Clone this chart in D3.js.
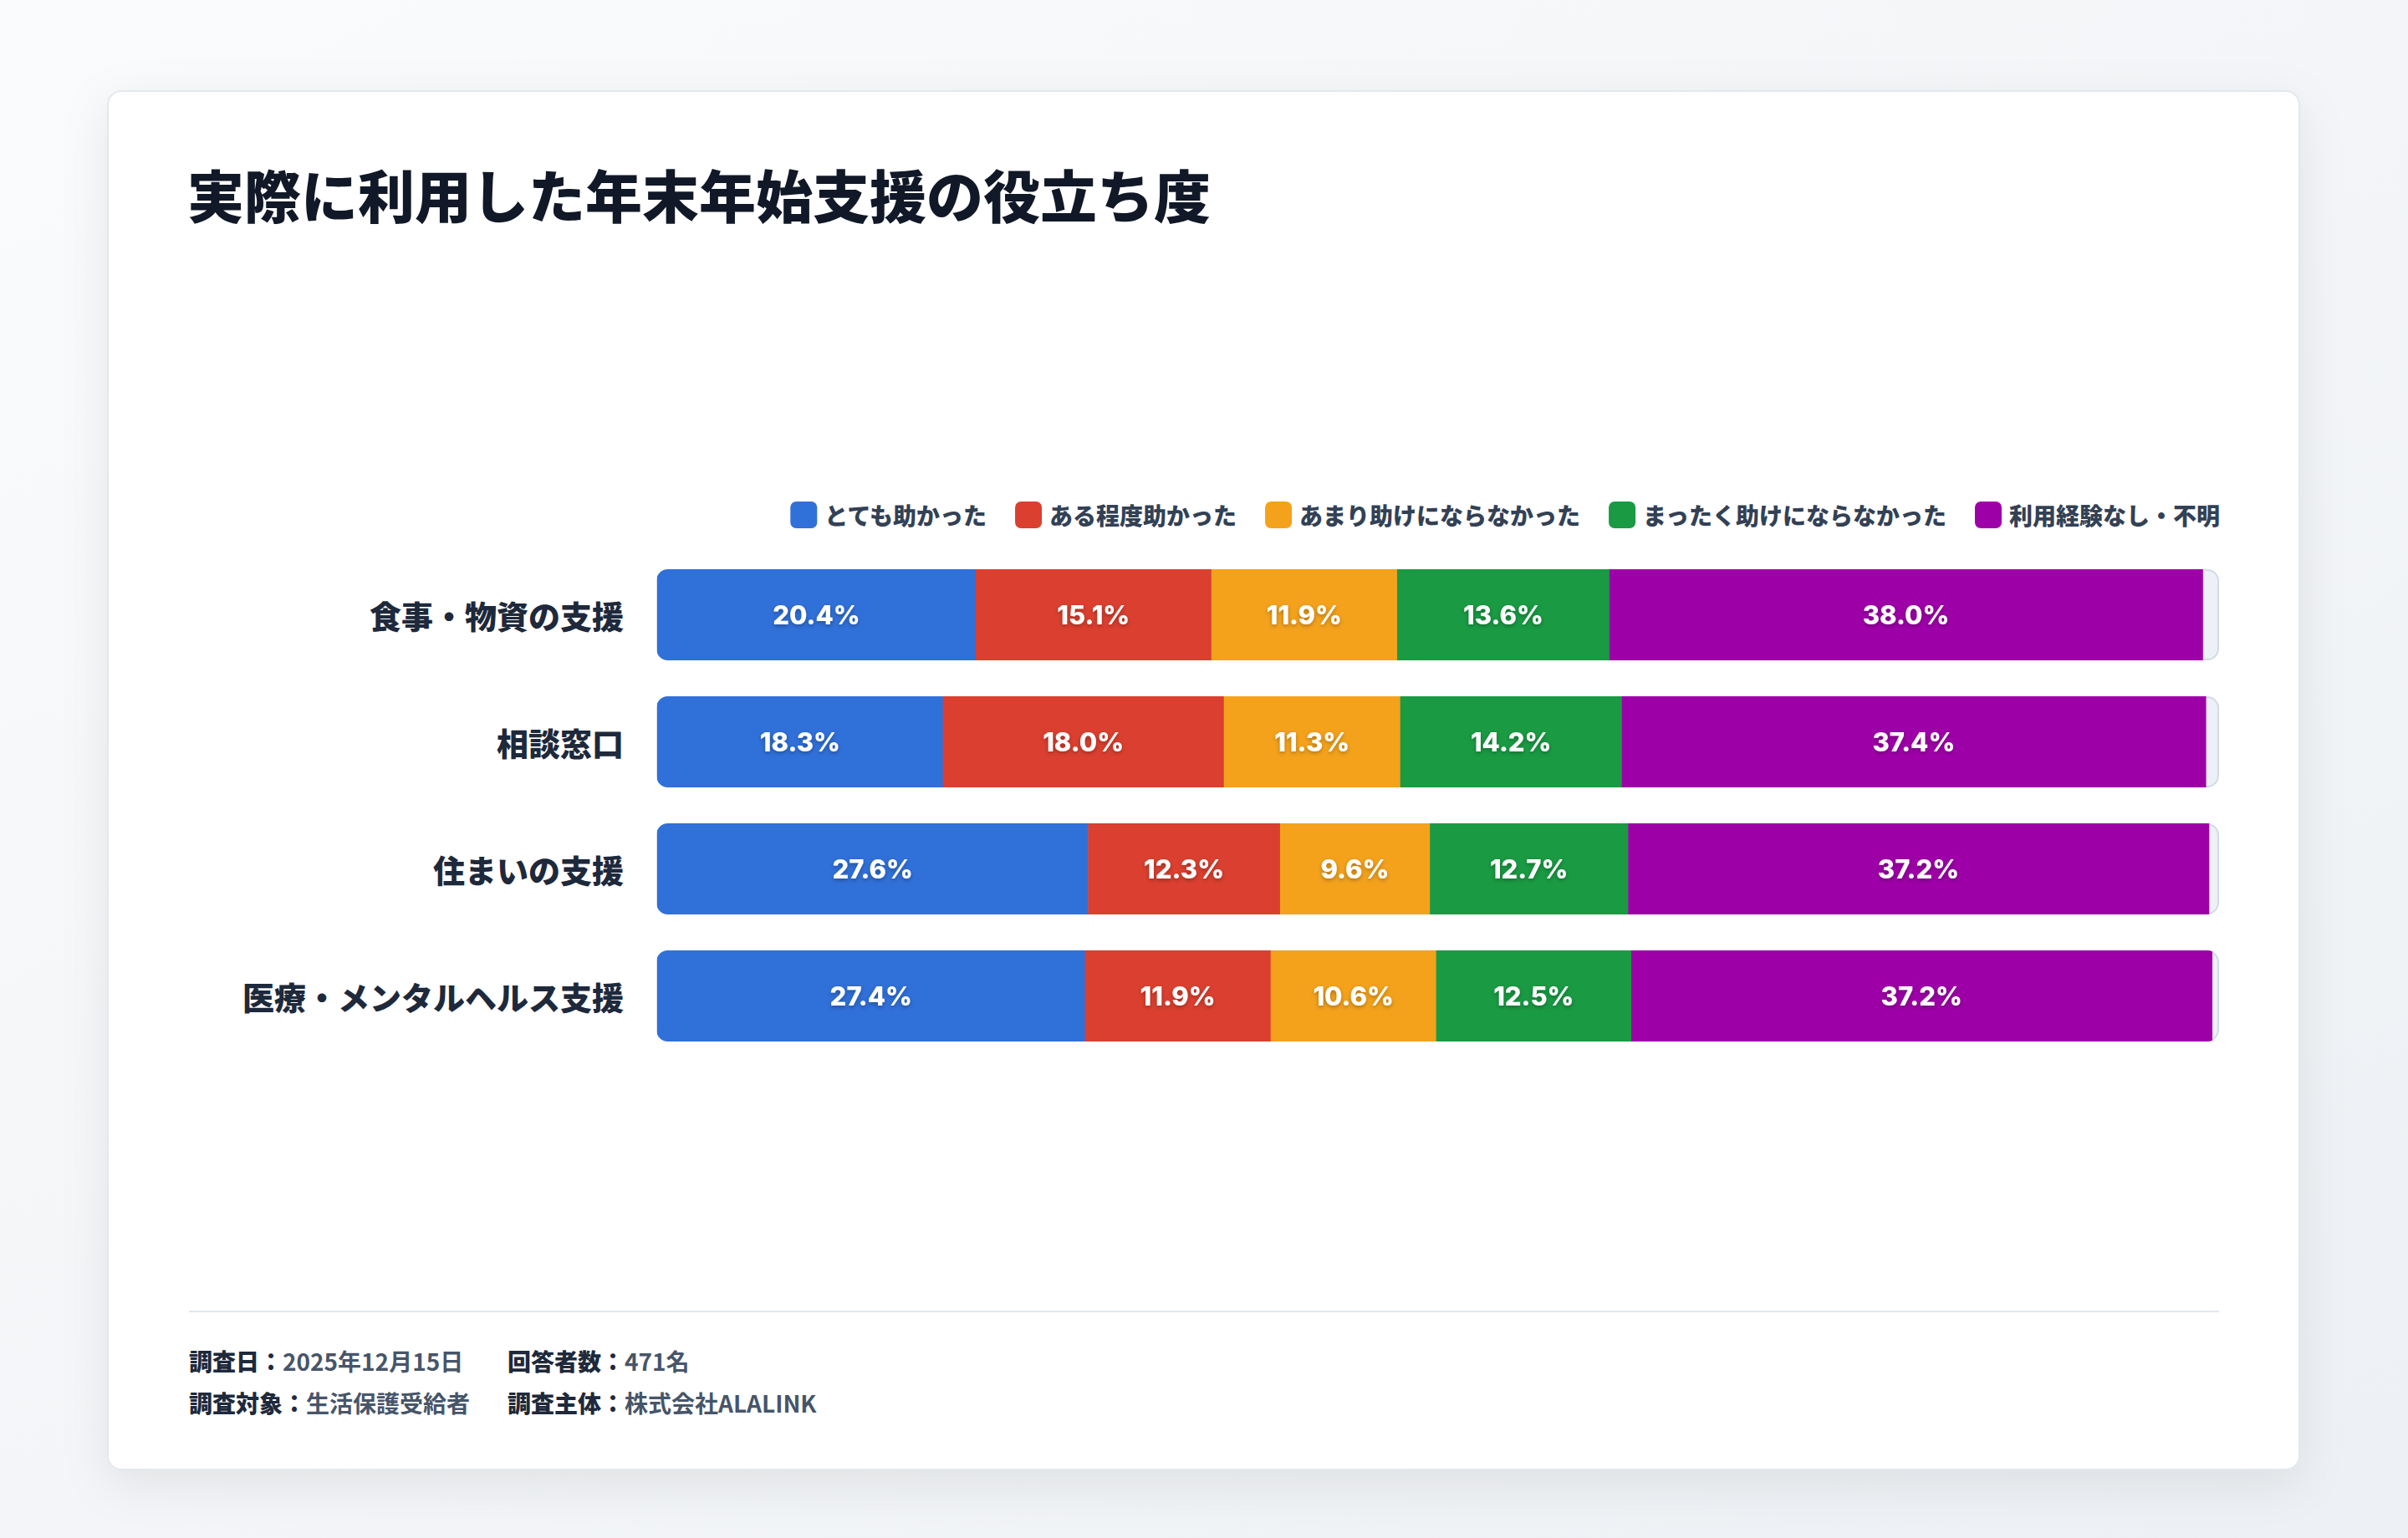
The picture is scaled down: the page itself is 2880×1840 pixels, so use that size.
<!DOCTYPE html>
<html lang="ja">
<head>
<meta charset="utf-8">
<title>実際に利用した年末年始支援の役立ち度</title>
<script src="https://cdn.jsdelivr.net/npm/d3@7"></script>
<style>
  html, body { margin: 0; padding: 0; overflow: hidden; background: #f4f6f9; }
  svg { display: block; width: 100vw; height: 100vh; }
  .jp { font-family: "Noto Sans CJK JP", "Noto Sans", sans-serif; }
</style>
</head>
<body>
<svg id="chart" viewBox="0 0 2880 1840" preserveAspectRatio="xMidYMid meet"></svg>
<script>
// ---- data ----
const categories = ["食事・物資の支援", "相談窓口", "住まいの支援", "医療・メンタルヘルス支援"];
const seriesNames = ["とても助かった", "ある程度助かった", "あまり助けにならなかった", "まったく助けにならなかった", "利用経験なし・不明"];
const seriesColors = ["#3070d9", "#db3f2f", "#f4a21c", "#1a9a43", "#9e00a8"];
const veryHelpful = [20.4, 18.3, 27.6, 27.4];
const somewhatHelpful = [15.1, 18.0, 12.3, 11.9];
const notVeryHelpful = [11.9, 11.3, 9.6, 10.6];
const notHelpfulAtAll = [13.6, 14.2, 12.7, 12.5];
const notUsed = [38.0, 37.4, 37.2, 37.2];
const footerRows = [
  [["調査日：", "2025年12月15日"], ["回答者数：", "471名"]],
  [["調査対象：", "生活保護受給者"], ["調査主体：", "株式会社ALALINK"]]
];

const seriesValues = [veryHelpful, somewhatHelpful, notVeryHelpful, notHelpfulAtAll, notUsed];
const rows = categories.map((c, i) => {
  const r = { category: c };
  seriesNames.forEach((s, j) => r[s] = seriesValues[j][i]);
  return r;
});

const svg = d3.select("#chart");
const defs = svg.append("defs");

// background + card
const bg = defs.append("linearGradient").attr("id", "bg")
  .attr("x1", 0).attr("y1", 0).attr("x2", 1).attr("y2", 1);
bg.append("stop").attr("offset", "0%").attr("stop-color", "#fafbfc");
bg.append("stop").attr("offset", "100%").attr("stop-color", "#edf0f4");

const shadow = defs.append("filter").attr("id", "cardShadow")
  .attr("x", "-10%").attr("y", "-10%").attr("width", "120%").attr("height", "125%");
shadow.append("feDropShadow").attr("dx", 0).attr("dy", 16).attr("stdDeviation", 28)
  .attr("flood-color", "#0f172a").attr("flood-opacity", 0.08);

const textShadow = defs.append("filter").attr("id", "txtShadow")
  .attr("x", "-20%").attr("y", "-40%").attr("width", "140%").attr("height", "190%");
textShadow.append("feDropShadow").attr("dx", 0).attr("dy", 2).attr("stdDeviation", 2.5)
  .attr("flood-color", "#000").attr("flood-opacity", 0.3);

svg.append("rect").attr("width", 2880).attr("height", 1840).attr("fill", "url(#bg)");
svg.append("rect")
  .attr("x", 129).attr("y", 109).attr("width", 2621).attr("height", 1649)
  .attr("rx", 16).attr("fill", "#fff")
  .attr("stroke", "#e3e8ef").attr("stroke-width", 2)
  .attr("filter", "url(#cardShadow)");

// title
svg.append("text").attr("class", "jp")
  .attr("x", 224).attr("y", 231)
  .attr("dominant-baseline", "central")
  .attr("font-size", 68).attr("font-weight", 900)
  .attr("fill", "#111827")
  .text("実際に利用した年末年始支援の役立ち度");

// scales
const x = d3.scaleLinear().domain([0, 100]).range([786, 2653]);
const y = d3.scaleBand().domain(categories).range([682, 1245]).paddingInner(0.296).paddingOuter(0);
const color = d3.scaleOrdinal().domain(seriesNames).range(seriesColors);

// legend (right aligned)
const legend = svg.append("g").attr("class", "jp");
const items = legend.selectAll("g").data(seriesNames).join("g");
items.append("rect").attr("width", 32).attr("height", 32).attr("rx", 7).attr("y", 600)
  .attr("fill", d => color(d));
items.append("text").attr("x", 41).attr("y", 616)
  .attr("dominant-baseline", "central")
  .attr("font-size", 28).attr("font-weight", 900).attr("fill", "#334155")
  .text(d => d);
const widths = [];
items.each(function() { widths.push(41 + d3.select(this).select("text").node().getComputedTextLength()); });
const gap = 34;
let lx = 2655 - d3.sum(widths) - gap * (widths.length - 1);
items.attr("transform", (d, i) => {
  const t = "translate(" + lx + ",0)";
  lx += widths[i] + gap;
  return t;
});

// bars
const stacked = d3.stack().keys(seriesNames)(rows);
const bh = y.bandwidth();

const rowG = svg.append("g").selectAll("g").data(categories).join("g");

rowG.each(function(c, i) {
  defs.append("clipPath").attr("id", "clip" + i)
    .append("rect")
    .attr("x", x(0) - 1).attr("y", y(c) - 1)
    .attr("width", x(100) - x(0) + 2).attr("height", bh + 2).attr("rx", 14);
});

rowG.append("rect")
  .attr("x", x(0)).attr("y", d => y(d))
  .attr("width", x(100) - x(0)).attr("height", bh).attr("rx", 13)
  .attr("fill", "#edf1f7").attr("stroke", "#d3dbe6").attr("stroke-width", 2);

const segs = rowG.append("g").attr("clip-path", (d, i) => "url(#clip" + i + ")");
segs.selectAll("rect")
  .data((c, i) => stacked.map(s => ({ key: s.key, v0: s[i][0], v1: s[i][1], c })))
  .join("rect")
  .attr("x", d => x(d.v0))
  .attr("y", d => y(d.c) - 1)
  .attr("width", d => x(d.v1) - x(d.v0) + 0.5)
  .attr("height", bh + 2)
  .attr("fill", d => color(d.key));

// value labels
const fmt = d3.format(".1f");
rowG.append("g").selectAll("text")
  .data((c, i) => stacked.map(s => ({ v0: s[i][0], v1: s[i][1], c })))
  .join("text")
  .attr("x", d => (x(d.v0) + x(d.v1)) / 2)
  .attr("y", d => y(d.c) + bh / 2)
  .attr("text-anchor", "middle")
  .attr("dominant-baseline", "central")
  .attr("font-family", "Inter, 'Noto Sans', sans-serif")
  .attr("font-size", 31).attr("font-weight", 800)
  .attr("fill", "#fff")
  .attr("filter", "url(#txtShadow)")
  .text(d => fmt(d.v1 - d.v0) + "%");

// category labels
rowG.append("text").attr("class", "jp")
  .attr("x", 746).attr("y", d => y(d) + bh / 2)
  .attr("text-anchor", "end")
  .attr("dominant-baseline", "central")
  .attr("font-size", 38).attr("font-weight", 900)
  .attr("fill", "#1e293b")
  .text(d => d);

// footer
svg.append("line")
  .attr("x1", 226).attr("x2", 2654).attr("y1", 1569).attr("y2", 1569)
  .attr("stroke", "#e2e8f0").attr("stroke-width", 2);

const footer = svg.append("g").attr("class", "jp");
const cols = [226, 607];
footerRows.forEach((row, ri) => {
  row.forEach((cell, ci) => {
    const t = footer.append("text")
      .attr("x", cols[ci]).attr("y", 1628 + ri * 50)
      .attr("dominant-baseline", "central")
      .attr("font-size", 28);
    t.append("tspan").attr("font-weight", 900).attr("fill", "#1e293b").text(cell[0]);
    t.append("tspan").attr("font-weight", 700).attr("fill", "#475569").text(cell[1]);
  });
});
</script>
</body>
</html>
